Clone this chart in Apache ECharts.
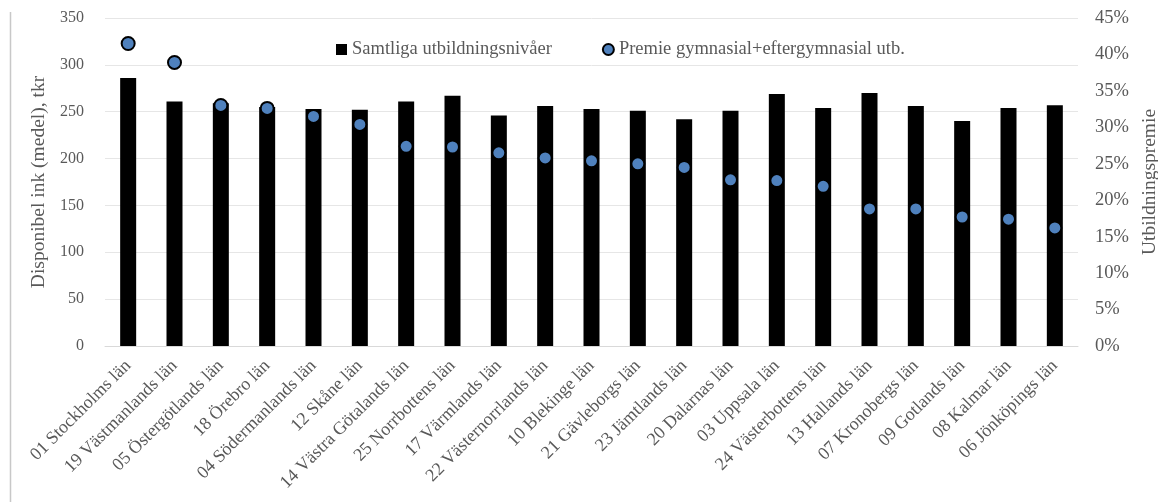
<!DOCTYPE html>
<html><head><meta charset="utf-8">
<script src="https://cdn.jsdelivr.net/npm/echarts@6/dist/echarts.min.js"></script>
<style>html,body{margin:0;padding:0;background:#fff}#c{width:1158px;height:502px}</style>
</head><body><div id="c"></div>
<script>
const categories = ["01 Stockholms län","19 Västmanlands län","05 Östergötlands län","18 Örebro län","04 Södermanlands län","12 Skåne län","14 Västra Götalands län","25 Norrbottens län","17 Värmlands län","22 Västernorrlands län","10 Blekinge län","21 Gävleborgs län","23 Jämtlands län","20 Dalarnas län","03 Uppsala län","24 Västerbottens län","13 Hallands län","07 Kronobergs län","09 Gotlands län","08 Kalmar län","06 Jönköpings län"];
const incomeValues = [286,261,259,255,253,252,261,267,246,256,253,251,242,251,269,254,270,256,240,254,257];
const premiumValues = [41.5,38.9,33.0,32.6,31.5,30.4,27.4,27.3,26.5,25.8,25.4,25.0,24.5,22.8,22.7,21.9,18.8,18.8,17.7,17.4,16.2];
const leftTicks = [0,50,100,150,200,250,300,350];
const rightTicks = [0,5,10,15,20,25,30,35,40,45];

const font = "Liberation Serif";
const grey = "#595959";
const chart = echarts.init(document.getElementById('c'));
chart.setOption({
  animation:false,
  textStyle:{fontFamily:font},
  grid:{left:105,right:80,top:18,bottom:156,containLabel:false,outerBoundsMode:'none'},
  legend:{
    top:35,left:331,itemGap:50,itemWidth:11,itemHeight:11,
    textStyle:{fontFamily:font,fontSize:18.5,color:grey},
    data:[{name:"Samtliga utbildningsnivåer",icon:"rect"},{name:"Premie gymnasial+eftergymnasial utb.",icon:"circle",itemStyle:{color:"#4f81bd",borderColor:"#000",borderWidth:2}}]
  },
  xAxis:{
    type:'category',data:categories,
    axisLine:{lineStyle:{color:"#d9d9d9"}},axisTick:{show:false},
    axisLabel:{rotate:45,interval:0,fontFamily:font,fontSize:18,color:grey,margin:17}
  },
  yAxis:[
    {type:'value',min:0,max:350,interval:50,name:"Disponibel ink (medel), tkr",nameLocation:'middle',nameGap:52,
     nameTextStyle:{fontFamily:font,fontSize:19.5,color:grey},
     axisLabel:{fontFamily:font,fontSize:16,color:grey,margin:21,formatter:v=>leftTicks.includes(v)?String(v):''},
     splitLine:{lineStyle:{color:"#e6e6e6"}},axisLine:{show:false},axisTick:{show:false}},
    {type:'value',min:0,max:45,interval:5,name:"Utbildningspremie",nameLocation:'middle',nameGap:57,nameRotate:90,
     nameTextStyle:{fontFamily:font,fontSize:19.5,color:grey},
     axisLabel:{fontFamily:font,fontSize:18.5,color:grey,margin:17,formatter:v=>rightTicks.includes(v)?v+'%':''},
     splitLine:{show:false},axisLine:{show:false},axisTick:{show:false}}
  ],
  series:[
    {name:"Samtliga utbildningsnivåer",type:'bar',data:incomeValues,barWidth:16,yAxisIndex:0,itemStyle:{color:"#000"}},
    {name:"Premie gymnasial+eftergymnasial utb.",type:'scatter',data:premiumValues,yAxisIndex:1,symbolSize:13,
     itemStyle:{color:"#4f81bd",borderColor:"#000",borderWidth:2,opacity:1},z:5}
  ],
  graphic:[{type:'line',shape:{x1:10.5,y1:12,x2:10.5,y2:502},style:{stroke:"#c8c8c8",lineWidth:1.5}}]
});
</script></body></html>
